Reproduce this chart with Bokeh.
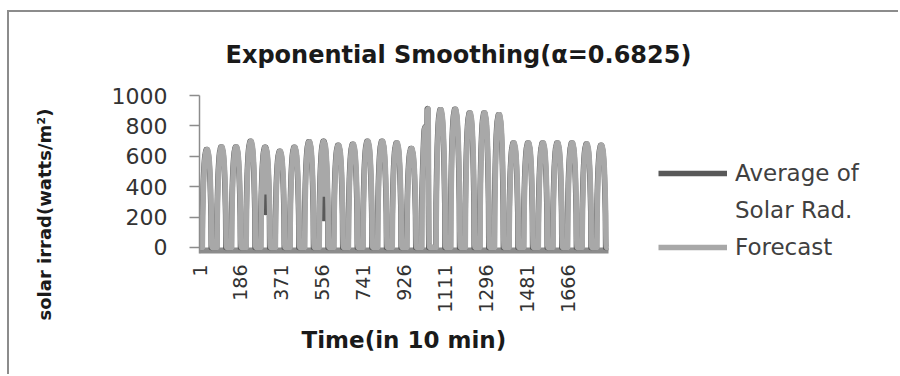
import numpy as np
from bokeh.plotting import figure
from bokeh.models import Range1d, FixedTicker, Legend, LegendItem, BoxAnnotation, Title
from bokeh.embed import file_html
from bokeh.resources import INLINE

# ---------------- data ----------------
alpha = 0.6825
steps_per_day = 66

# peak of each day's average solar radiation (W/m2); day 16 is irregular (listed separately)
day_peaks = [644, 662, 662, 699, 660, 633, 660, 695, 699, 672, 679, 699, 699, 688, 651,
             0, 907, 909, 885, 885, 874, 688, 688, 688, 688, 688, 681, 673]
special_day = 15
special_day_values = [0] * 14 + [310, 360, 410, 460, 510, 560, 600, 640,
                                 680, 720, 750, 770, 780, 785,
                                 790, 785, 790, 795, 790, 785, 790, 795, 790, 785, 790,
                                 912, 915, 915, 912,
                                 700, 400, 150] + [0] * 20

# shape of one day (fraction of the day's peak), one value per 10-min step
day_profile = [0] * 13 + [0.32, 0.42, 0.51, 0.59, 0.66, 0.72, 0.77, 0.81, 0.85, 0.88,
                          0.91, 0.93, 0.95, 0.96, 0.97, 0.98, 0.99, 1.00, 1.00, 1.00,
                          1.00, 1.00, 1.00, 0.99, 0.98, 0.97, 0.96, 0.95, 0.93, 0.91,
                          0.88, 0.85, 0.81, 0.77, 0.72, 0.66, 0.59, 0.51, 0.42, 0.32] + [0] * 13

# cloudy dips in the measured series
dip_steps = [298, 562]
dip_values = [230, 190]

x_tick_values = [1, 186, 371, 556, 741, 926, 1111, 1296, 1481, 1666]
y_tick_values = [0, 200, 400, 600, 800, 1000]

# ---------------- series ----------------
actual = []
for d, peak in enumerate(day_peaks):
    if d == special_day:
        actual.extend(special_day_values)
    else:
        actual.extend(round(peak * f) for f in day_profile)
actual = np.array(actual, dtype=float)
for s, v in zip(dip_steps, dip_values):
    actual[s - 1] = v

forecast = np.empty_like(actual)
forecast[0] = actual[0]
for i in range(1, len(actual)):
    forecast[i] = alpha * actual[i - 1] + (1 - alpha) * forecast[i - 1]

time_steps = np.arange(1, len(actual) + 1)
n = len(actual)

FONT = "DejaVu Sans"

# layout: plotted series occupy the left 409 px of a 701 px wide frame (legend sits right of them)
frame_px, data_px = 701, 409
x_end = 1 + n * frame_px / data_px
y_floor = -98.7          # frame bottom sits just above the rotated tick labels
axis_band_low = -39.5    # thick grey category-axis line just under zero

p = figure(width=891, height=364, output_backend="svg", toolbar_location=None,
           x_range=Range1d(1, x_end), y_range=Range1d(y_floor, 1000),
           min_border_left=190, min_border_right=0, min_border_top=83, min_border_bottom=114)
p.styles = {"margin-top": "10px", "margin-left": "7px",
            "border-top": "2px solid #8c8c8c", "border-left": "2px solid #8c8c8c"}
p.grid.visible = False
p.outline_line_color = None
p.background_fill_color = "white"
p.border_fill_color = "white"

p.title.text = "Exponential Smoothing(α=0.6825)"
p.title.align = "left"
p.title.offset = 26
p.title.standoff = 53
p.title.text_font = FONT
p.title.text_font_style = "bold"
p.title.text_font_size = "24px"
p.title.text_color = "#1a1a1a"

# x axis (line replaced by the grey band below)
xa = p.xaxis[0]
xa.bounds = (1, n + 1)
xa.ticker = FixedTicker(ticks=x_tick_values)
xa.major_label_orientation = np.pi / 2
xa.axis_line_color = None
xa.major_tick_line_color = None
xa.major_tick_out = 0
xa.major_tick_in = 0
xa.minor_tick_line_color = None
xa.major_label_standoff = 2
xa.major_label_text_font = FONT
xa.major_label_text_font_size = "19px"
xa.major_label_text_color = "#333333"

p.add_layout(Title(text="Time(in 10 min)", align="left", offset=102, vertical_align="top",
                   standoff=22, text_font=FONT, text_font_style="bold",
                   text_font_size="23px", text_color="#1a1a1a"), "below")

p.add_layout(BoxAnnotation(left=1, right=n + 1, bottom=axis_band_low, top=0,
                           fill_color="#8c8c8c", fill_alpha=1, line_color=None, level="underlay"))

# y axis
ya = p.yaxis[0]
ya.bounds = (axis_band_low, 1000)
ya.ticker = FixedTicker(ticks=y_tick_values)
ya.axis_line_color = "#8c8c8c"
ya.axis_line_width = 1.5
ya.major_tick_line_color = "#8c8c8c"
ya.major_tick_line_width = 1.5
ya.major_tick_out = 10
ya.major_tick_in = 0
ya.minor_tick_line_color = None
ya.major_label_standoff = 22
ya.major_label_text_font = FONT
ya.major_label_text_font_size = "22px"
ya.major_label_text_color = "#333333"

# y-axis title sits lower than the axis centre, as in the original
p.add_layout(Title(text=" ", standoff=32, text_font_size="18px"), "left")
p.add_layout(Title(text="solar irrad(watts/m²)", align="left", offset=-58, vertical_align="bottom",
                   standoff=0, text_font=FONT, text_font_style="bold",
                   text_font_size="18px", text_color="#1a1a1a"), "left")

r_act = p.line(time_steps, actual, line_color="#595959", line_width=5.5, line_join="round")
r_fc = p.line(time_steps, forecast, line_color="#a8a8a8", line_width=5.5, line_join="round")
r_blank = p.line(x=[], y=[], line_alpha=0)

legend = Legend(items=[LegendItem(label="Average of", renderers=[r_act]),
                       LegendItem(label="Solar Rad.", renderers=[r_blank]),
                       LegendItem(label="Forecast", renderers=[r_fc])],
                location=(459, 0), padding=0, margin=0, spacing=7,
                border_line_color=None, background_fill_alpha=0,
                glyph_width=69, glyph_height=30, label_height=30, label_standoff=8,
                label_text_font=FONT, label_text_font_size="23px", label_text_color="#404040")
p.add_layout(legend)

open("out.html", "w").write(file_html(p, INLINE))
